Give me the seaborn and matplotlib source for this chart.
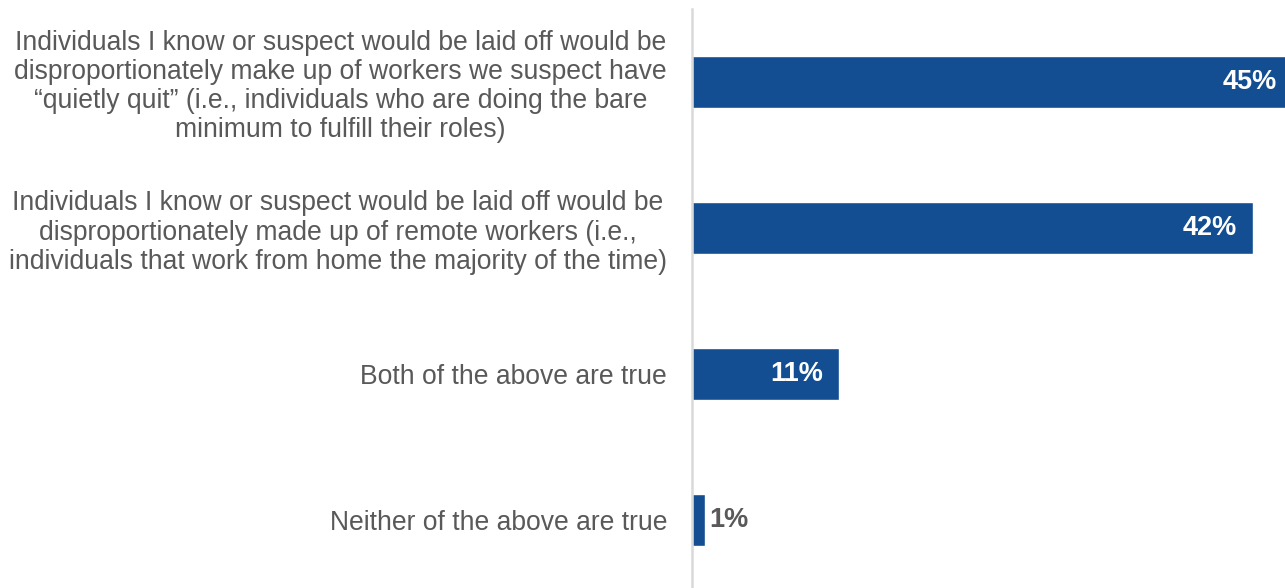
import matplotlib
matplotlib.use("Agg")
import matplotlib.pyplot as plt
import seaborn as sns
import pandas as pd

categories = [
    "Individuals I know or suspect would be laid off would be\n"
    "disproportionately make up of workers we suspect have\n"
    "\u201cquietly quit\u201d (i.e., individuals who are doing the bare\n"
    "minimum to fulfill their roles)",
    "Individuals I know or suspect would be laid off would be\n"
    "disproportionately made up of remote workers (i.e.,\n"
    "individuals that work from home the majority of the time)",
    "Both of the above are true",
    "Neither of the above are true",
]
values = [45, 42, 11, 1]
value_labels = ["45%", "42%", "11%", "1%"]

df = pd.DataFrame({"option": categories, "share": values})

sns.set_theme(style="white")
plt.rcParams["font.family"] = ["Liberation Sans", "DejaVu Sans"]

BAR = "#124E91"
GRAY = "#595959"

W, H = 1285, 588
fig = plt.figure(figsize=(W / 100, H / 100), dpi=100)
ax = fig.add_axes([692 / W, 0, (W - 692) / W, (H - 9) / H])

sns.barplot(data=df, x="share", y="option", orient="h", color=BAR,
            saturation=1, width=0.356, ax=ax)

ax.set_xlim(0, 44.4)
ax.set_ylim(3.466, -0.5)
ax.set_xlabel("")
ax.set_ylabel("")
ax.set_xticks([])
for s in ["top", "right", "bottom"]:
    ax.spines[s].set_visible(False)
ax.spines["left"].set_color("#d9d9d9")
ax.spines["left"].set_linewidth(1.8)

ax.tick_params(axis="y", length=0, pad=18)
for lab in ax.get_yticklabels():
    lab.set_fontsize(19.1)
    lab.set_color(GRAY)
    lab.set_multialignment("center")
    lab.set_linespacing(1.16)

for i, (v, t) in enumerate(zip(values, value_labels)):
    if v >= 5:
        ax.annotate(t, xy=(v, i), xytext=(-11.5, 0), textcoords="offset points",
                    ha="right", va="center", fontsize=19.5, fontweight="bold",
                    color="white", annotation_clip=False)
    else:
        ax.annotate(t, xy=(v, i), xytext=(3, 0), textcoords="offset points",
                    ha="left", va="center", fontsize=19.5, fontweight="bold",
                    color=GRAY)

fig.savefig("out.png", dpi=100)
